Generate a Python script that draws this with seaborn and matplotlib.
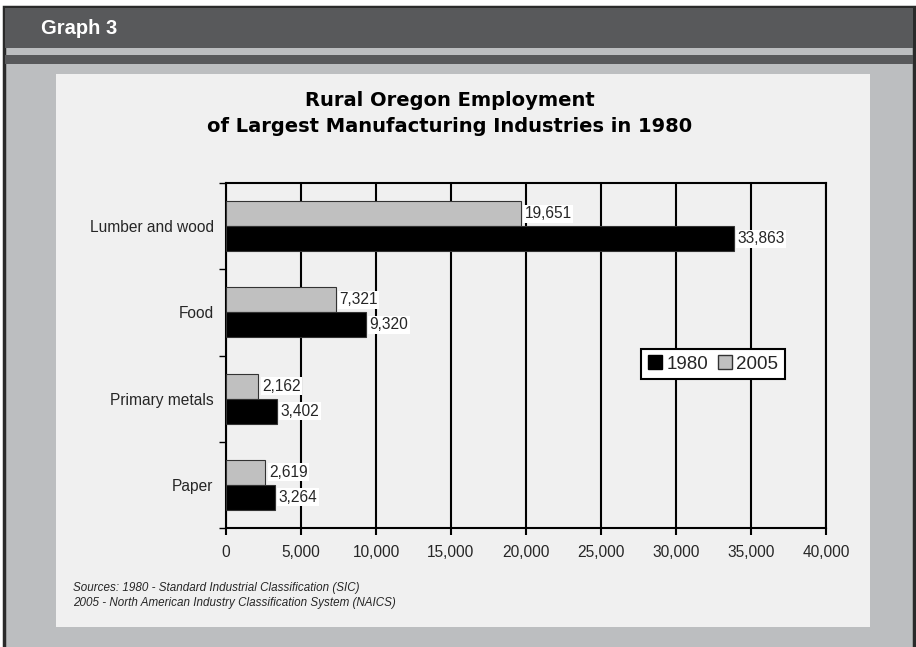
import matplotlib
matplotlib.use("Agg")
import matplotlib.pyplot as plt
from matplotlib.patches import Rectangle, Patch
import seaborn as sns
import pandas as pd

# Employment by industry, rural Oregon
industries = ["Lumber and wood", "Food", "Primary metals", "Paper"]
jobs_1980 = [33863, 9320, 3402, 3264]
jobs_2005 = [19651, 7321, 2162, 2619]
years = ["1980", "2005"]
x_ticks = [0, 5000, 10000, 15000, 20000, 25000, 30000, 35000, 40000]

df = pd.DataFrame({
    "industry": industries * 2,
    "year": ["2005"] * len(industries) + ["1980"] * len(industries),
    "jobs": jobs_2005 + jobs_1980,
})

sns.set_theme(style="white")
plt.rcParams["font.family"] = ["Liberation Sans", "DejaVu Sans"]

W, H = 916, 647
fig = plt.figure(figsize=(W / 100, H / 100), dpi=100)
fig.patch.set_facecolor("white")


def px_rect(x0, y0, x1, y1, **kw):
    fig.patches.append(Rectangle((x0 / W, 1 - y1 / H), (x1 - x0) / W, (y1 - y0) / H,
                                 transform=fig.transFigure, figure=fig, zorder=-10, **kw))


dark = "#58595b"
mid = "#bcbec0"
# frame and banner
px_rect(4, 7, 914, 670, facecolor=mid, edgecolor="#2a2a2a", linewidth=2.5)
px_rect(5, 8, 913, 48, facecolor=dark, edgecolor="none")
px_rect(5, 55, 913, 64, facecolor=dark, edgecolor="none")
px_rect(56, 74, 870, 627, facecolor="#f0f0f0", edgecolor="none")

fig.text(41 / W, 1 - 29 / H, "Graph 3", color="white", fontsize=14.5, fontweight="bold",
         va="center", ha="left")

title_font = ["DejaVu Sans", "Liberation Sans"]
fig.text(450 / W, 1 - 100 / H, "Rural Oregon Employment", fontsize=14, fontweight="bold",
         ha="center", va="center", color="black", family=title_font)
fig.text(450 / W, 1 - 127 / H, "of Largest Manufacturing Industries in 1980", fontsize=14,
         fontweight="bold", ha="center", va="center", color="black", family=title_font)

ax = fig.add_axes([226 / W, 1 - 528 / H, 600 / W, 345 / H])
ax.set_facecolor("#f0f0f0")

colors = {"2005": "#c0c0c0", "1980": "#000000"}
sns.barplot(data=df, y="industry", x="jobs", hue="year", hue_order=["2005", "1980"],
            order=industries, palette=colors, width=0.58, orient="h", ax=ax,
            edgecolor="#333333", linewidth=0.8, legend=False, zorder=3)

ax.set_xlim(0, 40000)
ax.set_xticks(x_ticks)
ax.set_xticklabels([f"{v:,}" for v in x_ticks], fontsize=11.2)
ax.set_xlabel("")
ax.set_ylabel("")
ax.tick_params(axis="y", length=0, labelsize=11.2, pad=9)
ax.set_ylim(len(industries) - 0.5, -0.5)
ax.grid(axis="x", color="black", linewidth=1.5, zorder=1)
ax.set_axisbelow(True)
for s in ax.spines.values():
    s.set_color("black")
    s.set_linewidth(1.5)

# minor ticks at category boundaries on the left, major ticks on the bottom
ax.set_yticks([i - 0.5 for i in range(len(industries) + 1)], minor=True)
ax.tick_params(axis="y", which="minor", length=5, width=1, color="black", direction="out", left=True)
ax.tick_params(axis="x", length=5, width=1.5, color="black", direction="out", pad=7, bottom=True)

# value labels
for cont in ax.containers:
    for bar in cont:
        val = bar.get_width()
        ax.text(val + 250, bar.get_y() + bar.get_height() / 2, f"{int(round(val)):,}",
                va="center", ha="left", fontsize=11.2, zorder=5,
                bbox=dict(facecolor="white", edgecolor="none", pad=1.0))

handles = [Patch(facecolor="#000000", edgecolor="black", label="1980"),
           Patch(facecolor="#c0c0c0", edgecolor="#333333", label="2005")]
leg = ax.legend(handles=handles, loc="center", bbox_to_anchor=((713 - 226) / 600, (528 - 364) / 345),
                ncol=2, frameon=True, fontsize=13.5, handlelength=0.75, handleheight=0.75,
                handletextpad=0.25, columnspacing=0.5, borderpad=0.35, fancybox=False)
leg.get_frame().set_edgecolor("black")
leg.get_frame().set_linewidth(1.5)
leg.get_frame().set_facecolor("white")
leg.get_frame().set_alpha(1)
leg.set_zorder(6)

fig.text(73 / W, 1 - 588 / H, "Sources: 1980 - Standard Industrial Classification (SIC)",
         fontsize=8.4, style="italic", va="center", ha="left")
fig.text(73 / W, 1 - 603 / H, "2005 - North American Industry Classification System (NAICS)",
         fontsize=8.4, style="italic", va="center", ha="left")

fig.savefig("out.png", dpi=100, facecolor=fig.get_facecolor())
